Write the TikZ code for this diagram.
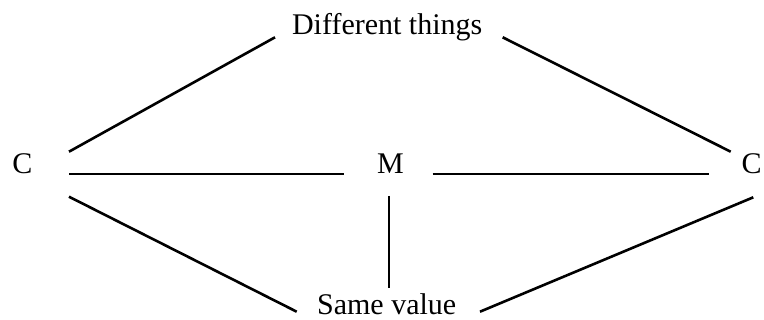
\documentclass[tikz,border=0pt]{standalone}
\usepackage{fontspec}
\setmainfont{Liberation Serif}
\begin{document}
\begin{tikzpicture}[x=1pt,y=-1pt,
  lbl/.style={anchor=base,inner sep=0pt,font=\fontsize{30}{36}\selectfont},
  link/.style={line width=2.6pt}]
\useasboundingbox (0,0) rectangle (764,320);
\node[lbl] (D) at (387.2,34.3) {Different things};
\node[lbl] (C1) at (22.5,173.3) {C};
\node[lbl] (M) at (390.5,173.3) {M};
\node[lbl] (C2) at (751.7,173.3) {C};
\node[lbl] (S) at (386.7,315) {Same value};
% connector end points
\coordinate (dl) at (275,37.3);
\coordinate (dr) at (502.7,37.3);
\coordinate (c1u) at (69,151.7);
\coordinate (c1h) at (69,174);
\coordinate (c1d) at (69,196.7);
\coordinate (ml) at (344,174);
\coordinate (mr) at (432.7,174);
\coordinate (md) at (389,196);
\coordinate (c2u) at (730.7,151.7);
\coordinate (c2h) at (709.3,174);
\coordinate (c2d) at (753.3,197.3);
\coordinate (sl) at (296.7,311.7);
\coordinate (su) at (389,288.3);
\coordinate (sr) at (480,311.7);
\draw[link] (c1u) -- (dl);
\draw[link] (dr) -- (c2u);
\draw[link] (c1h) -- (ml);
\draw[link] (mr) -- (c2h);
\draw[link] (c1d) -- (sl);
\draw[link] (md) -- (su);
\draw[link] (sr) -- (c2d);
\end{tikzpicture}
\end{document}
